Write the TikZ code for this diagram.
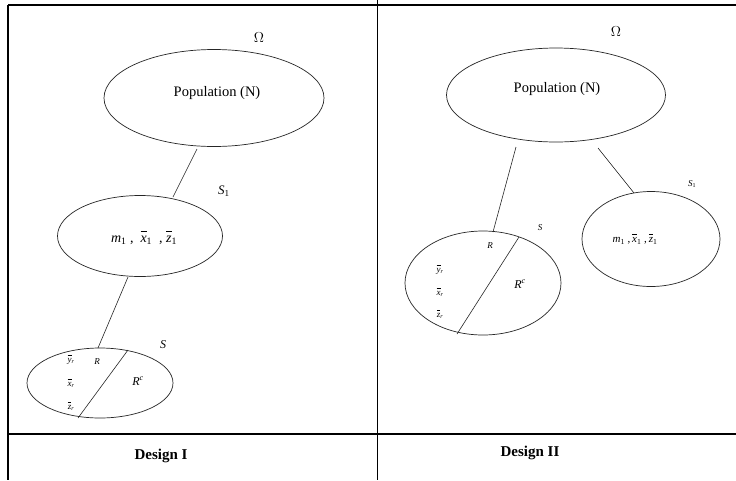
\documentclass[tikz,border=0pt]{standalone}
\usepackage{fontspec}
\setmainfont{Liberation Serif}
\usetikzlibrary{shapes.geometric}
\newcommand{\ovl}[1]{\setbox0\hbox{\itshape #1}\rlap{\raisebox{\dimexpr\ht0+0.3em\relax}{\rule{\wd0}{0.06em}}}\box0}
\newcommand{\itl}[1]{\textit{#1}}
\begin{document}
\begin{tikzpicture}[x=1pt,y=-1pt,
  ell/.style={draw=black!85,line width=0.7pt,ellipse,inner sep=0pt},
  conn/.style={draw=black!85,line width=0.6pt},
  lbl/.style={inner sep=0pt,font=\fontsize{14}{16}\selectfont},
  mid/.style={inner sep=0pt,font=\fontsize{12}{14}\selectfont},
  sm/.style={inner sep=0pt,font=\fontsize{9}{10}\selectfont},
  frame/.style={line width=2.6pt},
  thin/.style={line width=0.7pt}]
\useasboundingbox (0,0) rectangle (736,480);
\fill[white] (0,0) rectangle (736,480);
% frame
\coordinate (tl) at (8,5);
\coordinate (tr) at (736,5);
\coordinate (bl) at (8,480);
\coordinate (ml) at (8,434);
\coordinate (mr) at (736,434);
\coordinate (vt) at (377,0);
\coordinate (vb) at (377,480);
\draw[thin] (vt) -- (vb);
\draw[frame] (tl) -- (tr);
\draw[frame] (tl) -- (bl);
\draw[frame] (ml) -- (mr);
% ---------------- Design I
\node[ell,minimum width=220,minimum height=97] (popA) at (214,98) {};
\node[lbl,font=\fontsize{14.5}{16}\selectfont] (popAtxt) at (217,93) {Population (N)};
\node[lbl] (omA) at (259,38) {$\Omega$};
\node[ell,minimum width=165,minimum height=81] (s1A) at (140,236) {};
\node[mid,font=\fontsize{14}{16}\selectfont] (s1Atxt) at (144,238) {\itl{m}\textsubscript{1}\ ,\ \ \ovl{x}\textsubscript{1}\ \ ,\ \ovl{z}\textsubscript{1}};
\node[mid,font=\fontsize{13}{15}\selectfont] (s1Alab) at (224,191) {\itl{S}\textsubscript{1}};
\node[ell,minimum width=146,minimum height=70] (sA) at (100,383) {};
\node[mid] (sAlab) at (163,345) {\itl{S}};
\coordinate (cA1) at (128,350);
\coordinate (cA2) at (78,418);
\draw[conn] (cA1) -- (cA2);
\node[sm] (RA) at (97,362) {\itl{R}};
\node[mid] (RcA) at (138,381) {\itl{R}\textsuperscript{\itl{c}}};
\node[sm] (yA) at (71,360) {\ovl{y}\textsubscript{\itl{r}}};
\node[sm] (xA) at (71,383) {\ovl{x}\textsubscript{\itl{r}}};
\node[sm] (zA) at (71,406) {\ovl{z}\textsubscript{\itl{r}}};
\coordinate (pA1) at (197,149);
\coordinate (pA2) at (173,197);
\coordinate (pA3) at (128,277);
\coordinate (pA4) at (98,348);
\draw[conn] (pA1) -- (pA2);
\draw[conn] (pA3) -- (pA4);
% ---------------- Design II
\node[ell,minimum width=219,minimum height=94] (popB) at (556,95) {};
\node[lbl,font=\fontsize{14.5}{16}\selectfont] (popBtxt) at (557,89) {Population (N)};
\node[lbl] (omB) at (616,32) {$\Omega$};
\node[ell,minimum width=156,minimum height=104] (sB) at (483,283) {};
\node[sm] (sBlab) at (540,228) {\itl{S}};
\coordinate (cB1) at (519,237);
\coordinate (cB2) at (457,334);
\draw[conn] (cB1) -- (cB2);
\node[sm] (RB) at (490,246) {\itl{R}};
\node[mid] (RcB) at (520,284) {\itl{R}\textsuperscript{\itl{c}}};
\node[sm] (yB) at (440,270) {\ovl{y}\textsubscript{\itl{r}}};
\node[sm] (xB) at (440,292) {\ovl{x}\textsubscript{\itl{r}}};
\node[sm] (zB) at (440,314) {\ovl{z}\textsubscript{\itl{r}}};
\node[ell,minimum width=138,minimum height=95] (s1B) at (651,239) {};
\node[sm] (s1Blab) at (692,184) {\itl{S}\textsubscript{1}};
\node[sm,font=\fontsize{11}{13}\selectfont] (s1Btxt) at (635,239) {\itl{m}\textsubscript{1}\ ,\,\ovl{x}\textsubscript{1}\ ,\,\ovl{z}\textsubscript{1}};
\coordinate (pB1) at (516,147);
\coordinate (pB2) at (493,232);
\coordinate (pB3) at (598,148);
\coordinate (pB4) at (634,193);
\draw[conn] (pB1) -- (pB2);
\draw[conn] (pB3) -- (pB4);
% captions
\node[lbl,font=\fontsize{15}{17}\selectfont\bfseries] (capA) at (161,456) {Design I};
\node[lbl,font=\fontsize{15}{17}\selectfont\bfseries] (capB) at (530,453) {Design II};
\end{tikzpicture}
\end{document}
